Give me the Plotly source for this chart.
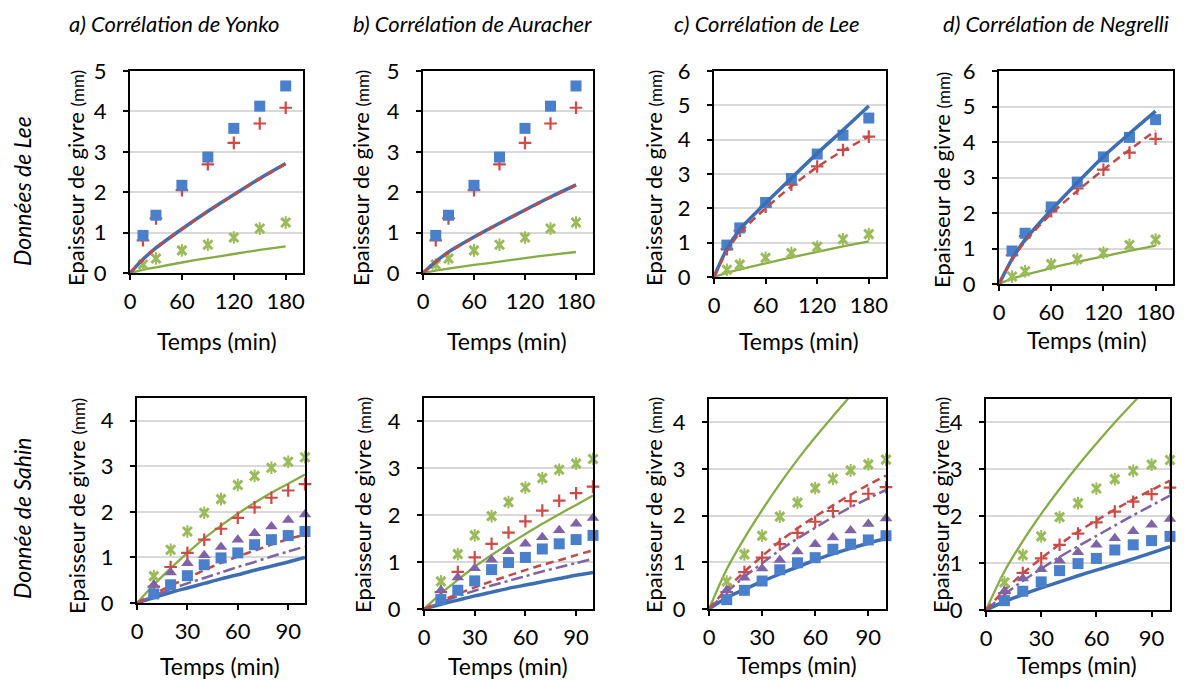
import plotly.graph_objects as go
from plotly.subplots import make_subplots

# The page body has an 8px margin: lay out in window pixels and shift.
OX, OY = 8, 8
W, H = 1179, 673
FONT = "Lato"

# ---------------- data: Lee experiments (top row) ----------------
t_lee = [15, 30, 60, 90, 120, 150, 180]
lee_blue = [0.93, 1.43, 2.17, 2.87, 3.58, 4.13, 4.63]
lee_red = [0.81, 1.35, 2.05, 2.69, 3.22, 3.70, 4.09]
lee_green = [0.21, 0.36, 0.56, 0.70, 0.88, 1.10, 1.25]

t_lee_curve = [0, 15, 30, 60, 90, 120, 150, 180]
yonko_blue = [0, 0.34, 0.62, 1.09, 1.53, 1.94, 2.34, 2.71]
yonko_red = [0, 0.33, 0.61, 1.08, 1.52, 1.93, 2.33, 2.70]
yonko_green = [0, 0.08, 0.14, 0.26, 0.37, 0.47, 0.57, 0.66]

auracher_blue = [0, 0.28, 0.52, 0.89, 1.23, 1.56, 1.88, 2.18]
auracher_red = [0, 0.27, 0.51, 0.88, 1.22, 1.55, 1.87, 2.17]
auracher_green = [0, 0.06, 0.11, 0.20, 0.28, 0.37, 0.45, 0.52]

leecorr_blue = [0, 0.82, 1.38, 2.15, 2.88, 3.60, 4.28, 4.98]
leecorr_red = [0, 0.75, 1.28, 2.00, 2.64, 3.20, 3.68, 4.09]
leecorr_green = [0, 0.12, 0.22, 0.40, 0.57, 0.73, 0.89, 1.04]

negrelli_blue = [0, 0.70, 1.25, 2.08, 2.85, 3.59, 4.24, 4.87]
negrelli_red = [0, 0.68, 1.20, 1.98, 2.62, 3.22, 3.78, 4.32]
negrelli_green = [0, 0.15, 0.26, 0.45, 0.62, 0.78, 0.93, 1.08]

# ---------------- data: Sahin experiments (bottom row) ----------------
t_sahin = [10, 20, 30, 40, 50, 60, 70, 80, 90, 100]
sahin_blue = [0.20, 0.40, 0.60, 0.84, 0.99, 1.10, 1.28, 1.39, 1.48, 1.57]
sahin_red = [0.36, 0.79, 1.10, 1.39, 1.63, 1.87, 2.10, 2.31, 2.47, 2.61]
sahin_purple = [0.40, 0.67, 0.87, 1.05, 1.23, 1.39, 1.53, 1.68, 1.82, 1.94]
sahin_green = [0.59, 1.17, 1.57, 1.98, 2.28, 2.59, 2.79, 2.97, 3.10, 3.20]

t_sahin_curve = [0, 10, 20, 30, 40, 50, 60, 70, 80, 90, 100]
s_yonko_blue = [0, 0.12, 0.23, 0.33, 0.43, 0.53, 0.62, 0.72, 0.81, 0.90, 1.00]
s_yonko_red = [0, 0.20, 0.38, 0.55, 0.72, 0.88, 1.02, 1.15, 1.28, 1.40, 1.50]
s_yonko_purple = [0, 0.16, 0.30, 0.43, 0.55, 0.67, 0.79, 0.90, 1.02, 1.13, 1.24]
s_yonko_green = [0, 0.40, 0.76, 1.10, 1.42, 1.70, 1.96, 2.20, 2.42, 2.62, 2.82]

s_aur_blue = [0, 0.10, 0.19, 0.28, 0.36, 0.44, 0.51, 0.58, 0.65, 0.72, 0.78]
s_aur_red = [0, 0.17, 0.32, 0.46, 0.59, 0.71, 0.83, 0.94, 1.04, 1.15, 1.25]
s_aur_purple = [0, 0.14, 0.27, 0.39, 0.50, 0.60, 0.70, 0.80, 0.89, 0.98, 1.07]
s_aur_green = [0, 0.33, 0.62, 0.90, 1.15, 1.38, 1.60, 1.82, 2.02, 2.22, 2.42]

s_lee_blue = [0, 0.24, 0.42, 0.59, 0.75, 0.90, 1.05, 1.18, 1.30, 1.41, 1.51]
s_lee_red = [0, 0.43, 0.80, 1.13, 1.45, 1.73, 1.98, 2.22, 2.45, 2.66, 2.86]
s_lee_purple = [0, 0.36, 0.69, 0.98, 1.26, 1.51, 1.74, 1.97, 2.18, 2.37, 2.55]
s_lee_green = [0, 0.85, 1.52, 2.12, 2.68, 3.20, 3.68, 4.13, 4.57, 5.00, 5.40]

s_neg_blue = [0, 0.18, 0.33, 0.47, 0.60, 0.73, 0.85, 0.97, 1.09, 1.22, 1.35]
s_neg_red = [0, 0.42, 0.78, 1.10, 1.40, 1.67, 1.91, 2.14, 2.36, 2.56, 2.76]
s_neg_purple = [0, 0.33, 0.62, 0.88, 1.13, 1.36, 1.58, 1.80, 2.02, 2.23, 2.44]
s_neg_green = [0, 0.82, 1.47, 2.05, 2.58, 3.08, 3.55, 4.00, 4.42, 4.85, 5.25]

col_titles = ["a) Corrélation de Yonko", "b) Corrélation de Auracher",
              "c) Corrélation de Lee", "d) Corrélation de Negrelli"]
row_titles = ["Données de Lee", "Donnée de Sahin"]
y_title = "Epaisseur de givre <span style='font-size:17px'>(mm)</span>"
x_title = "Temps (min)"

# ---------------- styles ----------------
MK = {
    "blue": dict(color="#4A7FCB", symbol="square", size=11),
    "red": dict(color="#D04A45", symbol="cross-thin", size=9, line=dict(width=2.2, color="#D04A45")),
    "purple": dict(color="#7F63A8", symbol="triangle-up", size=11),
}
LN = {
    "blue": dict(color="#3C6EB4", width=3.5),
    "red": dict(color="#BE4B48", width=2.5, dash="8px,5px"),
    "green": dict(color="#86AC45", width=2.3),
    "purple": dict(color="#8064A2", width=2.5, dash="12px,4px,3px,4px"),
}
GREEN_MK = "#9BBB59"

fig = make_subplots(rows=2, cols=4)


def add_points(t, y, key, r, c):
    if key == "green":
        fig.add_trace(go.Scatter(x=t, y=y, mode="markers", cliponaxis=False,
                                 marker=dict(symbol="x-thin", size=9, line=dict(width=3, color=GREEN_MK)),
                                 showlegend=False, hoverinfo="skip"), row=r, col=c)
        fig.add_trace(go.Scatter(x=t, y=y, mode="markers", cliponaxis=False,
                                 marker=dict(symbol="line-ns", size=9, line=dict(width=2, color=GREEN_MK)),
                                 showlegend=False, hoverinfo="skip"), row=r, col=c)
    else:
        fig.add_trace(go.Scatter(x=t, y=y, mode="markers", cliponaxis=False, marker=MK[key],
                                 showlegend=False), row=r, col=c)


def add_curve(t, y, key, r, c):
    fig.add_trace(go.Scatter(x=t, y=y, mode="lines", line=dict(**LN[key], shape="spline", smoothing=0.8),
                             showlegend=False), row=r, col=c)


top_curves = [
    (yonko_blue, yonko_red, yonko_green),
    (auracher_blue, auracher_red, auracher_green),
    (leecorr_blue, leecorr_red, leecorr_green),
    (negrelli_blue, negrelli_red, negrelli_green),
]
bot_curves = [
    (s_yonko_blue, s_yonko_red, s_yonko_purple, s_yonko_green),
    (s_aur_blue, s_aur_red, s_aur_purple, s_aur_green),
    (s_lee_blue, s_lee_red, s_lee_purple, s_lee_green),
    (s_neg_blue, s_neg_red, s_neg_purple, s_neg_green),
]

for i, (cb, cr, cg) in enumerate(top_curves):
    c = i + 1
    add_curve(t_lee_curve, cg, "green", 1, c)
    add_points(t_lee, lee_green, "green", 1, c)
    add_points(t_lee, lee_red, "red", 1, c)
    add_points(t_lee, lee_blue, "blue", 1, c)
    add_curve(t_lee_curve, cb, "blue", 1, c)
    add_curve(t_lee_curve, cr, "red", 1, c)

for i, (cb, cr, cp, cg) in enumerate(bot_curves):
    c = i + 1
    add_curve(t_sahin_curve, cg, "green", 2, c)
    add_curve(t_sahin_curve, cb, "blue", 2, c)
    add_curve(t_sahin_curve, cp, "purple", 2, c)
    add_curve(t_sahin_curve, cr, "red", 2, c)
    add_points(t_sahin, sahin_green, "green", 2, c)
    add_points(t_sahin, sahin_red, "red", 2, c)
    add_points(t_sahin, sahin_purple, "purple", 2, c)
    add_points(t_sahin, sahin_blue, "blue", 2, c)


def px(x):
    return (x - OX) / W


def py(y):
    return 1 - (y - OY) / H


# ---------------- layout (window-pixel boxes) ----------------
boxes = [
    (130, 303, 71, 273), (423, 593, 71, 273), (714, 886, 71, 277), (999, 1173, 71, 284),
    (137, 305, 398, 603), (424, 593, 398, 609), (709, 886, 399, 609), (986, 1170, 399, 610),
]
yranges = [[0, 5], [0, 5], [0, 6], [0, 6], [0, 4.5], [0, 4.5], [0, 4.5], [0, 4.5]]

tickfont = dict(family=FONT, size=22, color="black")
for k, (x0, x1, y0, y1) in enumerate(boxes):
    n = "" if k == 0 else str(k + 1)
    top = k < 4
    fig.layout["xaxis" + n].update(
        domain=[px(x0), px(x1)], range=[0, 200] if top else [0, 100], dtick=60 if top else 30,
        tick0=0, showline=True, linecolor="black", linewidth=2, mirror=True, automargin=False,
        ticks="outside", ticklen=5, tickcolor="black", tickwidth=1.5,
        showgrid=False, zeroline=False, tickfont=tickfont, ticklabelstandoff=3)
    fig.layout["yaxis" + n].update(
        domain=[py(y1), py(y0)], range=yranges[k], dtick=1, tick0=0, automargin=False,
        showline=True, linecolor="black", linewidth=2, mirror=True,
        ticks="outside", ticklen=5, tickcolor="black", tickwidth=1.5,
        showgrid=True, gridcolor="#D9D9D9", gridwidth=2, zeroline=False,
        tickfont=tickfont, ticklabelstandoff=12)

ann = []


def A(text, x, y, size, angle=0, italic=False, yanchor="middle"):
    ann.append(dict(text=text, x=px(x), y=py(y), xref="paper", yref="paper",
                    showarrow=False, textangle=angle, xanchor="center", yanchor=yanchor,
                    font=dict(family=FONT, size=size, color="black",
                              style="italic" if italic else "normal")))


for t, cx in zip(col_titles, [174, 472, 767, 1056]):
    A(t, cx, 8, 22, italic=True, yanchor="top")
A(row_titles[0], 22, 191, 23, angle=-90, italic=True)
A(row_titles[1], 22, 519, 23, angle=-90, italic=True)

for (cx, cy) in [(75, 178), (360, 178), (653, 178), (941, 180),
                 (76, 506), (362, 505), (653, 505), (940, 505)]:
    A(y_title, cx, cy, 22, angle=-90)
for (cx, cy) in [(217, 341), (507, 341), (799, 341), (1087, 340),
                 (220, 666), (508, 666), (797, 665), (1077, 665)]:
    A(x_title, cx, cy, 23)

fig.update_layout(width=W, height=H, autosize=False, margin=dict(l=0, r=0, t=0, b=0, autoexpand=False),
                  paper_bgcolor="white", plot_bgcolor="white", showlegend=False,
                  annotations=ann, font=dict(family=FONT))

fig.write_html("out.html")
